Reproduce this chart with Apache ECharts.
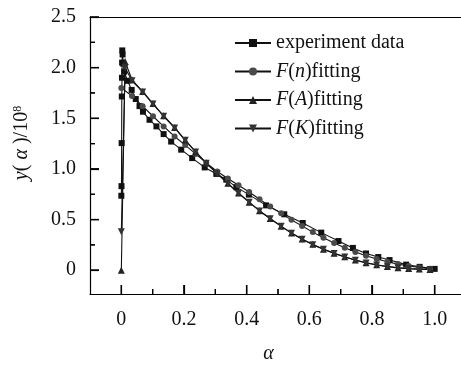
<!DOCTYPE html>
<html><head><meta charset="utf-8">
<script src="https://cdn.jsdelivr.net/npm/echarts@6/dist/echarts.min.js"></script>
<style>html,body{margin:0;padding:0;background:#fff;overflow:hidden}#c{width:461px;height:365px}</style>
</head><body><div id="c"></div>
<script>
// ---- data ----
const expAlpha = [0, 0.0005, 0.001, 0.0015, 0.002, 0.0025, 0.003, 0.004, 0.006, 0.009, 0.02, 0.033, 0.046, 0.058, 0.069, 0.09, 0.112, 0.135, 0.159, 0.191, 0.226, 0.266, 0.303, 0.335, 0.367, 0.407, 0.462, 0.52, 0.579, 0.638, 0.693, 0.739, 0.781, 0.82, 0.856, 0.909, 0.952, 1.0];
const expY = [0.735, 0.83, 1.255, 1.715, 1.9, 2.05, 2.17, 2.13, 2.04, 1.96, 1.87, 1.78, 1.69, 1.62, 1.565, 1.485, 1.42, 1.344, 1.27, 1.19, 1.107, 1.015, 0.952, 0.894, 0.82, 0.746, 0.64, 0.552, 0.466, 0.371, 0.288, 0.22, 0.165, 0.13, 0.1, 0.055, 0.033, 0.013];

const fnAlpha = [0, 0.034, 0.068, 0.101, 0.135, 0.17, 0.204, 0.237, 0.271, 0.306, 0.34, 0.374, 0.408, 0.441, 0.475, 0.51, 0.543, 0.577, 0.611, 0.645, 0.679, 0.713, 0.747, 0.781, 0.815, 0.849, 0.883, 0.917, 0.951, 0.985];
const fnY = [1.80, 1.72, 1.62, 1.52, 1.42, 1.32, 1.235, 1.148, 1.06, 0.975, 0.905, 0.838, 0.772, 0.70, 0.628, 0.562, 0.497, 0.436, 0.376, 0.32, 0.268, 0.222, 0.18, 0.143, 0.11, 0.083, 0.06, 0.041, 0.026, 0.015];

const faAlpha = [0, 0.012, 0.034, 0.068, 0.101, 0.135, 0.17, 0.204, 0.237, 0.271, 0.306, 0.34, 0.374, 0.408, 0.441, 0.475, 0.51, 0.543, 0.577, 0.611, 0.645, 0.679, 0.713, 0.747, 0.781, 0.815, 0.849, 0.883, 0.917, 0.951, 0.985];
const faY = [0, 2.06, 1.88, 1.765, 1.645, 1.525, 1.41, 1.285, 1.17, 1.058, 0.955, 0.858, 0.763, 0.672, 0.588, 0.51, 0.435, 0.368, 0.308, 0.255, 0.208, 0.168, 0.132, 0.1, 0.074, 0.053, 0.036, 0.024, 0.016, 0.011, 0.008];

const fkAlpha = [0, 0.012, 0.034, 0.068, 0.101, 0.135, 0.17, 0.204, 0.237, 0.271, 0.306, 0.34, 0.374, 0.408, 0.441, 0.475, 0.51, 0.543, 0.577, 0.611, 0.645, 0.679, 0.713, 0.747, 0.781, 0.815, 0.849, 0.883, 0.917, 0.951, 0.985];
const fkY = [0.38, 2.0, 1.87, 1.76, 1.64, 1.52, 1.405, 1.282, 1.168, 1.056, 0.953, 0.855, 0.76, 0.67, 0.585, 0.508, 0.433, 0.366, 0.306, 0.252, 0.206, 0.166, 0.13, 0.098, 0.072, 0.051, 0.035, 0.023, 0.015, 0.01, 0.007];

const seriesNames = ['experiment data', 'F(n)fitting', 'F(A)fitting', 'F(K)fitting'];
const xMajor = [0, 0.2, 0.4, 0.6, 0.8, 1.0];
const xMinor = [0.1, 0.3, 0.5, 0.7, 0.9];
const yMajor = [0, 0.5, 1.0, 1.5, 2.0, 2.5];
const yMinor = [0.25, 0.75, 1.25, 1.75, 2.25];

// ---- chart ----
const FONT = '"Liberation Serif", "Times New Roman", serif';
const FS = 20;
const zip = (a, b) => a.map((v, i) => [v, b[i]]);
const fmt = v => (Math.abs(v) < 1e-9 ? '0' : v.toFixed(1));
const X0 = -0.1, X1 = 1.084, Y0 = -0.235, Y1 = 2.5;
const MAJ = 9, MIN = 5;
const TICK_COLOR = '#000';

const tickData = []
  .concat(xMajor.map(v => [v, 0, MAJ]), xMinor.map(v => [v, 0, MIN]))
  .concat(yMajor.map(v => [v, 1, MAJ]), yMinor.map(v => [v, 1, MIN]));

const lineSt = { color: '#000', width: 1.2 };
const tickSt = { show: true, inside: true, length: MAJ, lineStyle: { color: TICK_COLOR, width: 1.2 } };

const richLegend = {
  i: { fontStyle: 'italic', fontFamily: FONT, fontSize: FS, color: '#111' },
  n: { fontFamily: FONT, fontSize: FS, color: '#111' }
};
function legendFmt(name) {
  if (name === seriesNames[0]) return '{n|experiment data}';
  const m = name.match(/^F\((\w)\)(.*)$/);
  return '{i|F}{n|(}{i|' + m[1] + '}{n|)' + m[2] + '}';
}

function mkSeries(name, data, symbol, size, color, rotate) {
  return {
    name, type: 'line', data, symbol, symbolSize: size, symbolRotate: rotate || 0,
    lineStyle: { color: '#111', width: 1.1 },
    itemStyle: { color: color, borderWidth: 0 },
    showAllSymbol: true, animation: false
  };
}

const chart = echarts.init(document.getElementById('c'));
chart.setOption({
  animation: false,
  backgroundColor: '#fff',
  grid: { left: 90, top: 17, right: 0, bottom: 71, outerBoundsMode: 'none' },
  xAxis: [{
    type: 'value', min: X0, max: X1, position: 'bottom',
    name: 'α', nameLocation: 'middle', nameGap: 50,
    nameTextStyle: { fontFamily: FONT, fontStyle: 'italic', fontSize: FS, color: '#111', padding: [0, 14, 0, 0] },
    axisLine: { show: true, onZero: false, lineStyle: lineSt },
    axisTick: Object.assign({ customValues: xMajor }, tickSt),
    splitLine: { show: false },
    axisLabel: { show: true, customValues: xMajor, formatter: fmt, margin: 16, color: '#111', fontFamily: FONT, fontSize: FS }
  }, {
    type: 'value', min: X0, max: X1, position: 'top',
    axisLine: { show: true, onZero: false, lineStyle: lineSt }, axisTick: { show: false }, splitLine: { show: false }, axisLabel: { show: false }
  }],
  yAxis: {
    type: 'value', min: Y0, max: Y1, position: 'left',
    name: '{i|y}{n|(}{i| α }{n|)/10}{s|8}', nameLocation: 'middle', nameGap: 58, nameRotate: 90,
    nameTextStyle: { padding: [0, 0, 0, 25], rich: {
      i: { fontFamily: FONT, fontStyle: 'italic', fontSize: FS, color: '#111' },
      n: { fontFamily: FONT, fontSize: FS, color: '#111' },
      s: { fontFamily: FONT, fontSize: 12, color: '#111', verticalAlign: 'top', padding: [0, 0, 8, 0] } } },
    axisLine: { show: true, onZero: false, lineStyle: lineSt },
    axisTick: Object.assign({ customValues: yMajor }, tickSt),
    splitLine: { show: false },
    axisLabel: { show: true, customValues: yMajor, formatter: fmt, margin: 14, color: '#111', fontFamily: FONT, fontSize: FS }
  },
  legend: {
    orient: 'vertical', left: 229, top: 28, itemWidth: 36, itemHeight: 10, itemGap: 8.5,
    data: seriesNames, formatter: legendFmt,
    textStyle: { fontFamily: FONT, fontSize: FS, color: '#111', lineHeight: 20, rich: richLegend }
  },
  series: [
    {
      name: 'ticks', type: 'custom', data: tickData, z: 10,
      renderItem: function (params, api) {
        const v = api.value(0), ax = api.value(1), len = api.value(2);
        let p, q;
        if (ax === 0) { p = api.coord([v, Y0]); q = [p[0], p[1] - len]; }
        else { p = api.coord([X0, v]); q = [p[0] + len, p[1]]; }
        return { type: 'line', shape: { x1: p[0], y1: p[1], x2: q[0], y2: q[1] }, style: { stroke: TICK_COLOR, lineWidth: 1.2 } };
      }
    },
    mkSeries(seriesNames[0], zip(expAlpha, expY), 'rect', 6, '#111'),
    mkSeries(seriesNames[1], zip(fnAlpha, fnY), 'circle', 6, '#4a4a4a'),
    mkSeries(seriesNames[2], zip(faAlpha, faY), 'triangle', 7, '#222'),
    mkSeries(seriesNames[3], zip(fkAlpha, fkY), 'triangle', 7, '#333', 180)
  ]
});

// extra tick segments as plain line series, end points found through the chart's own pixel<->data conversion
const finder = { xAxisIndex: 0, yAxisIndex: 0 };
const xt = [], yt = [];
tickData.forEach(([v, ax, len]) => {
  if (ax === 0) {
    const p = chart.convertToPixel(finder, [v, Y0]);
    const e = chart.convertFromPixel(finder, [p[0], p[1] - len]);
    xt.push([v, Y0], [v, e[1]], [v, '-']);
  } else {
    const p = chart.convertToPixel(finder, [X0, v]);
    const e = chart.convertFromPixel(finder, [p[0] + len, p[1]]);
    yt.push([X0, v], [e[0], v], ['-', v]);
  }
});
const tickLine = { type: 'line', symbol: 'none', silent: true, connectNulls: false, z: 10, clip: false,
  lineStyle: { color: TICK_COLOR, width: 1.2 }, animation: false };
chart.setOption({ series: [
  {}, {}, {}, {}, {},
  Object.assign({ name: 'xticks', data: xt }, tickLine),
  Object.assign({ name: 'yticks', data: yt }, tickLine)
] });
</script></body></html>
